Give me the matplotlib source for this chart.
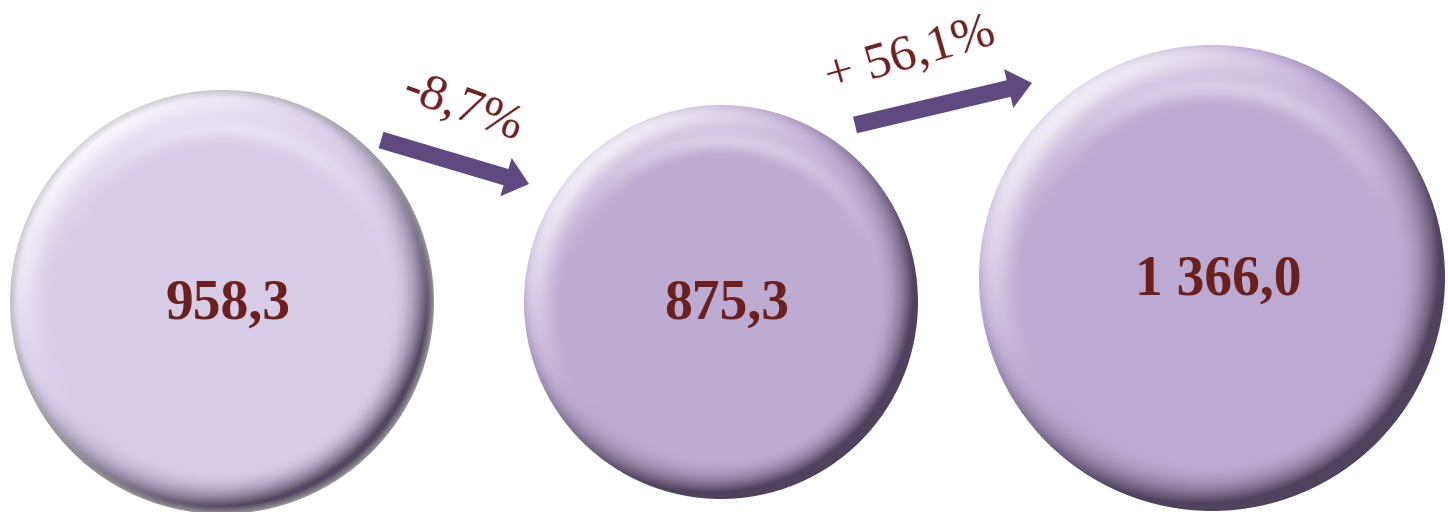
import numpy as np
import matplotlib
matplotlib.use("Agg")
import matplotlib.pyplot as plt
from matplotlib.patches import Circle, FancyArrow
from matplotlib.colors import to_rgb

# ---- data ----
values = [958.3, 875.3, 1366.0]
value_labels = ["958,3", "875,3", "1 366,0"]
change_labels = ["-8,7%", "+ 56,1%"]

# ---- layout (pixels, y down) ----
centers = [(222, 302), (721, 302), (1212, 278)]
radii = [212, 197, 233]
fills = ["#D8CDE7", "#BDABD2", "#BCAAD2"]
arrows = [((381, 140), (529, 184)), ((855, 125), (1032, 83))]
change_pos = [(462, 108), (910, 55)]
change_rot = [-20, 16]

W, H = 1448, 512
fig = plt.figure(figsize=(W / 100, H / 100), dpi=100)
ax = fig.add_axes([0, 0, 1, 1])
ax.set_xlim(0, W)
ax.set_ylim(H, 0)
ax.set_aspect("equal")
ax.axis("off")

L = np.array([-0.55, 0.65, 0.55])
L = L / np.linalg.norm(L)
dark = np.array(to_rgb("#3c3048"))
white = np.array([1.0, 1.0, 1.0])


def disc_image(R, base, silver=False, n=600):
    s = np.linspace(-1, 1, n)
    u, v = np.meshgrid(s, -s)
    r = np.sqrt(u ** 2 + v ** 2) + 1e-9
    t = np.clip((r - 0.80) / 0.20, 0, 1)
    th = (t ** 1.8) * (np.pi / 2) * 0.95
    nx = u / r * np.sin(th)
    ny = v / r * np.sin(th)
    nz = np.cos(th)
    shade = nx * L[0] + ny * L[1] + nz * L[2]
    d = shade - L[2]
    base = np.array(to_rgb(base))
    img = np.ones((n, n, 3)) * base
    pos = np.clip(d, 0, None)[..., None]
    neg = np.clip(-d, 0, None)[..., None]
    img = img + (white - img) * np.clip(pos * 1.7, 0, 0.85)
    img = img + (dark - img) * np.clip(neg * 1.0, 0, 0.85)
    # soft inner highlight band near the top
    band = np.exp(-((r - 0.82) / 0.05) ** 2) * np.clip(v / r, 0, 1) ** 2
    img = img + (white - img) * (band[..., None] * 0.4)
    if silver:
        ring = np.clip((r - 0.965) / 0.035, 0, 1)[..., None]
        grey = np.array([0.78, 0.78, 0.80]) * (0.75 + 0.35 * np.clip(shade, 0, 1))[..., None]
        img = img * (1 - ring) + grey * ring
    return np.clip(img, 0, 1)


for i, ((cx, cy), R) in enumerate(zip(centers, radii)):
    img = disc_image(R, fills[i], silver=(i == 0))
    im = ax.imshow(img, extent=(cx - R, cx + R, cy + R, cy - R), origin="upper",
                   interpolation="bilinear", zorder=2)
    clip = Circle((cx, cy), R, transform=ax.transData)
    im.set_clip_path(clip)
    ax.text(cx + 6, cy + 3, value_labels[i], ha="center", va="center",
            fontsize=40, fontweight="bold", family="Liberation Serif",
            color="#6B2020", zorder=5)

for (p0, p1), lab, pos, rot in zip(arrows, change_labels, change_pos, change_rot):
    dx, dy = p1[0] - p0[0], p1[1] - p0[1]
    ar = FancyArrow(p0[0], p0[1], dx, dy, width=17, head_width=40, head_length=24,
                    length_includes_head=True, color="#5E4A7E", zorder=4, lw=0)
    ax.add_patch(ar)
    ax.text(pos[0], pos[1], lab, ha="center", va="center", rotation=rot,
            rotation_mode="anchor", fontsize=37, family="Liberation Serif",
            color="#6B2020", zorder=5)

fig.savefig("out.png", dpi=100, facecolor="white")
